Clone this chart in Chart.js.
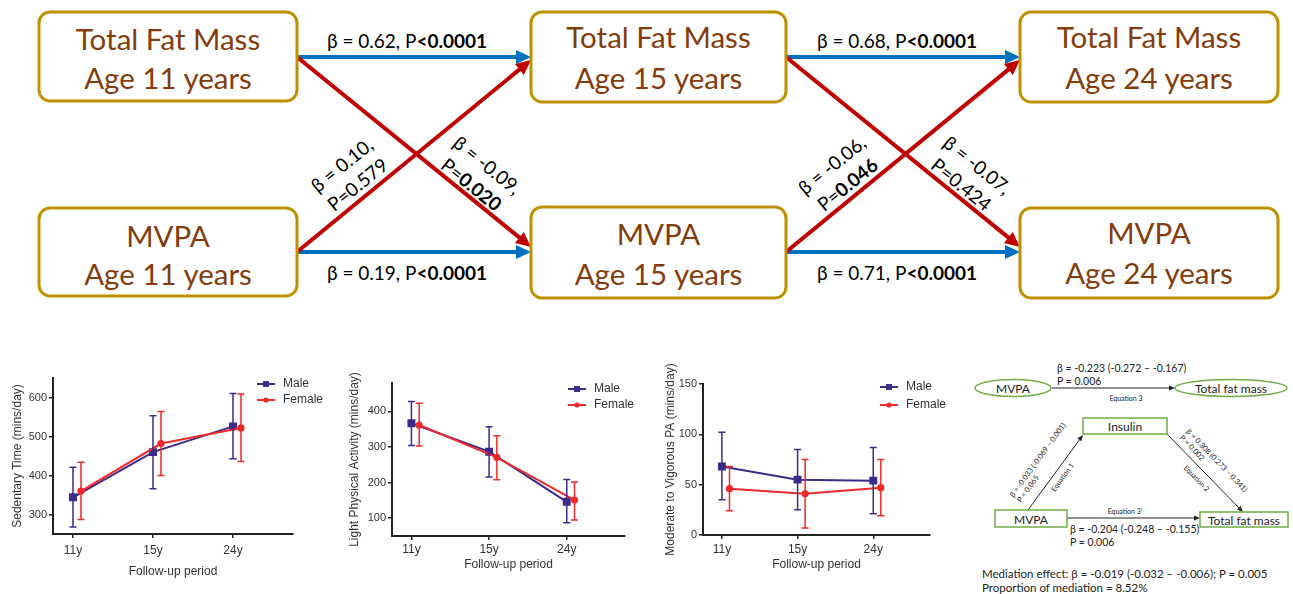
<!DOCTYPE html>
<html>
<head>
<meta charset="utf-8">
<script src="https://cdn.jsdelivr.net/npm/chart.js@4.4.1/dist/chart.umd.min.js"></script>
<style>
  html, body { margin: 0; padding: 0; background: #fff; }
  #page { position: relative; width: 1293px; height: 594px; overflow: hidden; }
  #diagram { position: absolute; left: 0; top: 0; }
  .panel { position: absolute; }
</style>
</head>
<body>
<div id="page">
  <svg id="diagram" width="1293" height="594" xmlns="http://www.w3.org/2000/svg"></svg>
  <div class="panel" style="left:0;top:360px;width:340px;height:234px"><canvas id="c1"></canvas></div>
  <div class="panel" style="left:340px;top:360px;width:320px;height:234px"><canvas id="c2"></canvas></div>
  <div class="panel" style="left:655px;top:360px;width:310px;height:234px"><canvas id="c3"></canvas></div>
</div>
<script>
// follow-up waves
const categories = ['11y', '15y', '24y'];

// Sedentary time (mins/day), mean and error bar ends
const sedMale = [344, 460, 526];
const sedMaleLow = [268, 366, 443];
const sedMaleHigh = [421, 553, 610];
const sedFemale = [360, 482, 522];
const sedFemaleLow = [287, 400, 436];
const sedFemaleHigh = [434, 564, 609];
const sedTicks = [300, 400, 500, 600];

// Light physical activity (mins/day)
const lpaMale = [367, 287, 146];
const lpaMaleLow = [304, 216, 87];
const lpaMaleHigh = [428, 357, 209];
const lpaFemale = [362, 271, 151];
const lpaFemaleLow = [303, 208, 95];
const lpaFemaleHigh = [423, 332, 202];
const lpaTicks = [100, 200, 300, 400];

// Moderate to vigorous PA (mins/day)
const mvpaMale = [68, 55, 54];
const mvpaMaleLow = [35, 25, 21];
const mvpaMaleHigh = [102, 85, 87];
const mvpaFemale = [46, 41, 47];
const mvpaFemaleLow = [24, 7, 19];
const mvpaFemaleHigh = [68, 75, 75];
const mvpaTicks = [0, 50, 100, 150];

const dodge = 0.1; // female points sit slightly right of the tick
const maleColor = '#3d2a8a';
const femaleColor = '#ee2a2a';
const textColor = '#333';

// ---------- path diagram (svg) ----------
const svg = document.getElementById('diagram');
const NS = 'http://www.w3.org/2000/svg';

function add(tag, attrs, parent = svg) {
  const e = document.createElementNS(NS, tag);
  for (const k in attrs) e.setAttribute(k, attrs[k]);
  parent.appendChild(e);
  return e;
}

function addText(parent, x, y, segs, attrs) {
  const t = add('text', Object.assign({ x, y }, attrs), parent);
  segs.forEach(([str, bold]) => {
    const s = add('tspan', bold ? { 'font-weight': 'bold' } : {}, t);
    s.textContent = str;
  });
  return t;
}

function arrow(x1, y1, x2, y2, color, width, headL, headW, parent = svg) {
  const len = Math.hypot(x2 - x1, y2 - y1);
  const ux = (x2 - x1) / len, uy = (y2 - y1) / len;
  const bx = x2 - ux * headL, by = y2 - uy * headL;
  add('line', { x1, y1, x2: bx + ux, y2: by + uy, stroke: color, 'stroke-width': width }, parent);
  add('polygon', {
    points: `${x2},${y2} ${bx - uy * headW},${by + ux * headW} ${bx + uy * headW},${by - ux * headW}`,
    fill: color
  }, parent);
}

const boxes = [
  { x: 39, y: 12, w: 258, h: 89, lines: ['Total Fat Mass', 'Age 11 years'], ly: [38, 77] },
  { x: 39, y: 208, w: 258, h: 88, lines: ['MVPA', 'Age 11 years'], ly: [235, 273] },
  { x: 531, y: 12, w: 255, h: 90, lines: ['Total Fat Mass', 'Age 15 years'], ly: [36, 77] },
  { x: 531, y: 207, w: 255, h: 91, lines: ['MVPA', 'Age 15 years'], ly: [233, 273] },
  { x: 1020, y: 12, w: 258, h: 90, lines: ['Total Fat Mass', 'Age 24 years'], ly: [36, 77] },
  { x: 1020, y: 208, w: 258, h: 90, lines: ['MVPA', 'Age 24 years'], ly: [232, 272] }
];

const blue = '#0070c0', red = '#c00000';
arrow(297, 57, 531, 57, blue, 4, 15, 7);
arrow(297, 252, 531, 252, blue, 4, 15, 7);
arrow(786, 57, 1020, 57, blue, 4, 15, 7);
arrow(786, 252, 1020, 252, blue, 4, 15, 7);
arrow(297, 57, 531, 247, red, 4, 15, 7);
arrow(297, 252, 531, 60, red, 4, 15, 7);
arrow(786, 57, 1020, 247, red, 4, 15, 7);
arrow(786, 252, 1020, 60, red, 4, 15, 7);

boxes.forEach(b => {
  add('rect', { x: b.x, y: b.y, width: b.w, height: b.h, rx: 11, fill: '#fff', stroke: '#bf9000', 'stroke-width': 3 });
  b.lines.forEach((s, i) => {
    addText(svg, b.x + b.w / 2, b.ly[i], [[s]], {
      'text-anchor': 'middle', 'dominant-baseline': 'central',
      'font-family': 'Lato', 'font-size': 29.5, fill: '#843c0c'
    });
  });
});

const labelFont = { 'text-anchor': 'middle', 'dominant-baseline': 'central', 'font-family': 'Lato', 'font-size': 19, fill: '#000' };
addText(svg, 407, 40, [['β = 0.62, P'], ['<0.0001', true]], labelFont);
addText(svg, 407, 272, [['β = 0.19, P'], ['<0.0001', true]], labelFont);
addText(svg, 897, 40, [['β = 0.68, P'], ['<0.0001', true]], labelFont);
addText(svg, 897, 272, [['β = 0.71, P'], ['<0.0001', true]], labelFont);

const diagLabels = [
  { cx: 349, cy: 174, rot: -39, lines: [[['β = 0.10,']], [['P=0.579']]] },
  { cx: 480, cy: 174, rot: 39, lines: [[['β = -0.09,']], [['P='], ['0.020', true]]] },
  { cx: 839, cy: 174, rot: -39, lines: [[['β = -0.06,']], [['P='], ['0.046', true]]] },
  { cx: 970, cy: 174, rot: 39, lines: [[['β = -0.07,']], [['P=0.424']]] }
];
diagLabels.forEach(d => {
  const g = add('g', { transform: `translate(${d.cx},${d.cy}) rotate(${d.rot})` });
  d.lines.forEach((segs, i) => addText(g, 0, (i - 0.5) * 25, segs, labelFont));
});

// ---------- mediation panel (svg) ----------
const green = '#70ad47';
const small = { 'font-family': 'Lato', fill: '#222' };
const betaFont = Object.assign({ 'font-size': 10.5, 'dominant-baseline': 'central' }, small);
addText(svg, 1057, 368, [['β = -0.223 (-0.272 – -0.167)']], betaFont);
addText(svg, 1057, 381, [['P = 0.006']], betaFont);
arrow(1052, 388, 1175, 388, '#222', 1, 6, 2.5);
add('ellipse', { cx: 1013, cy: 388, rx: 38, ry: 8.5, fill: '#fff', stroke: green, 'stroke-width': 1.5 });
add('ellipse', { cx: 1231, cy: 388, rx: 56, ry: 8.5, fill: '#fff', stroke: green, 'stroke-width': 1.5 });
const nodeFont = Object.assign({ 'font-size': 12, 'text-anchor': 'middle', 'dominant-baseline': 'central' }, small);
addText(svg, 1013, 388, [['MVPA']], nodeFont);
addText(svg, 1231, 388, [['Total fat mass']], nodeFont);
const eqFont = Object.assign({ 'font-size': 7, 'text-anchor': 'middle', 'dominant-baseline': 'central' }, small);
addText(svg, 1126, 398, [['Equation 3']], eqFont);

arrow(1028, 510, 1083, 435, '#222', 1, 6, 2.5);
arrow(1167, 434, 1243, 512, '#222', 1, 6, 2.5);
arrow(1067, 518, 1200, 518, '#222', 1, 6, 2.5);
add('rect', { x: 1083, y: 418, width: 84, height: 16, fill: '#fff', stroke: green, 'stroke-width': 1.5 });
add('rect', { x: 995, y: 510, width: 72, height: 17, fill: '#fff', stroke: green, 'stroke-width': 1.5 });
add('rect', { x: 1200, y: 512, width: 88, height: 15, fill: '#fff', stroke: green, 'stroke-width': 1.5 });
addText(svg, 1125, 426, [['Insulin']], nodeFont);
addText(svg, 1031, 519, [['MVPA']], nodeFont);
addText(svg, 1244, 520, [['Total fat mass']], nodeFont);
addText(svg, 1125, 511, [['Equation 3’']], eqFont);

const rotFont = Object.assign({ 'font-size': 7.5, 'dominant-baseline': 'central' }, small);
let g = add('g', { transform: 'translate(1011,496) rotate(-54)' });
addText(g, 0, 0, [['β = -0.033 (-0.069 – 0.001)']], rotFont);
addText(g, 0, 9, [['P = 0.065']], rotFont);
g = add('g', { transform: 'translate(1062,477) rotate(-54)' });
addText(g, 0, 0, [['Equation 1']], eqFont);
g = add('g', { transform: 'translate(1188,430) rotate(46)' });
addText(g, 0, 0, [['β = 0.308 (0.273 – 0.341)']], rotFont);
addText(g, 0, 9, [['P = 0.002']], rotFont);
g = add('g', { transform: 'translate(1197,478) rotate(46)' });
addText(g, 0, 0, [['Equation 2']], eqFont);

const noteFont = Object.assign({ 'font-size': 11.5, 'dominant-baseline': 'central' }, small);
addText(svg, 1070, 529, [['β = -0.204 (-0.248 – -0.155)']], betaFont);
addText(svg, 1070, 542, [['P = 0.006']], betaFont);
addText(svg, 982, 573, [['Mediation effect: β = -0.019 (-0.032 – -0.006); P = 0.005']], noteFont);
addText(svg, 982, 587, [['Proportion of mediation = 8.52%']], noteFont);

// ---------- Chart.js panels ----------
const errorBars = {
  id: 'errorBars',
  afterDatasetsDraw(chart) {
    const { ctx, scales: { y } } = chart;
    chart.data.datasets.forEach((ds, i) => {
      const meta = chart.getDatasetMeta(i);
      ctx.save();
      ctx.strokeStyle = ds.borderColor;
      ctx.lineWidth = 1.5;
      meta.data.forEach((pt, j) => {
        const yl = y.getPixelForValue(ds.errLow[j]);
        const yh = y.getPixelForValue(ds.errHigh[j]);
        ctx.beginPath();
        ctx.moveTo(pt.x, yl); ctx.lineTo(pt.x, yh);
        ctx.moveTo(pt.x - 3.5, yl); ctx.lineTo(pt.x + 3.5, yl);
        ctx.moveTo(pt.x - 3.5, yh); ctx.lineTo(pt.x + 3.5, yh);
        ctx.stroke();
      });
      ctx.restore();
    });
  }
};

const sideLegend = {
  id: 'sideLegend',
  afterDraw(chart, args, opts) {
    const { ctx } = chart;
    chart.data.datasets.forEach((ds, i) => {
      const y = opts.y + i * opts.gap;
      ctx.save();
      ctx.strokeStyle = ds.borderColor;
      ctx.fillStyle = ds.borderColor;
      ctx.lineWidth = 2;
      ctx.beginPath(); ctx.moveTo(opts.x, y); ctx.lineTo(opts.x + 18, y); ctx.stroke();
      Chart.helpers.drawPoint(ctx, { pointStyle: ds.pointStyle, radius: ds.pointRadius, borderWidth: 0 }, opts.x + 9, y);
      ctx.fillStyle = textColor;
      ctx.font = '12px Arial';
      ctx.textBaseline = 'middle';
      ctx.fillText(ds.label, opts.x + 26, y);
      ctx.restore();
    });
  }
};

const axisFont = { family: 'Arial', size: 12 };

function lineChart(canvasId, s) {
  const pts = (vals, off) => vals.map((v, i) => ({ x: i + 1 + off, y: v }));
  return new Chart(document.getElementById(canvasId), {
    type: 'line',
    data: {
      datasets: [
        { label: 'Male', data: pts(s.male, 0), errLow: s.maleLow, errHigh: s.maleHigh,
          borderColor: maleColor, backgroundColor: maleColor, pointStyle: 'rect', pointRadius: 4.2,
          borderWidth: 2, order: 1 },
        { label: 'Female', data: pts(s.female, dodge), errLow: s.femaleLow, errHigh: s.femaleHigh,
          borderColor: femaleColor, backgroundColor: femaleColor, pointStyle: 'circle', pointRadius: 2.6,
          borderWidth: 2, order: 0 }
      ]
    },
    options: {
      responsive: true,
      maintainAspectRatio: false,
      animation: false,
      layout: { padding: { left: 0, top: s.area.t, right: s.w - s.area.r, bottom: 0 } },
      plugins: { legend: { display: false }, tooltip: { enabled: false }, sideLegend: s.legend },
      scales: {
        x: {
          type: 'linear', min: 0.75, max: 3.75,
          afterBuildTicks: sc => { sc.ticks = categories.map((c, i) => ({ value: i + 1 })); },
          afterFit: sc => { sc.height = s.h - s.area.b; },
          ticks: { callback: (v, i) => categories[i], font: axisFont, color: textColor, padding: s.xTickPad, maxRotation: 0, autoSkip: false },
          grid: { drawOnChartArea: false, tickLength: 4, color: '#222', lineWidth: 1.5 },
          border: { color: '#222', width: 2 },
          title: { display: true, text: 'Follow-up period', font: axisFont, color: textColor, padding: { top: 0, bottom: s.xTitlePad } }
        },
        y: {
          min: s.yMin, max: s.yMax,
          afterBuildTicks: sc => { sc.ticks = s.ticks.map(v => ({ value: v })); },
          afterFit: sc => { sc.width = s.area.l; },
          ticks: { font: { family: 'Arial', size: 11 }, color: textColor, padding: 2 },
          grid: { drawOnChartArea: false, tickLength: 4, color: '#222', lineWidth: 1.5 },
          border: { color: '#222', width: 2 },
          title: { display: true, text: s.yTitle, font: axisFont, color: textColor, padding: { top: s.yTitlePad, bottom: 0 } }
        }
      }
    },
    plugins: [errorBars, sideLegend]
  });
}

lineChart('c1', {
  w: 340, h: 234, area: { l: 53, r: 293, t: 18, b: 174 },
  yMin: 250, yMax: 650, ticks: sedTicks, yTitle: 'Sedentary Time (mins/day)',
  male: sedMale, maleLow: sedMaleLow, maleHigh: sedMaleHigh,
  female: sedFemale, femaleLow: sedFemaleLow, femaleHigh: sedFemaleHigh,
  xTickPad: 5, xTitlePad: 15, yTitlePad: 10,
  legend: { x: 257, y: 24, gap: 16 }
});

lineChart('c2', {
  w: 320, h: 234, area: { l: 52, r: 285, t: 23, b: 176 },
  yMin: 50, yMax: 480, ticks: lpaTicks, yTitle: 'Light Physical Activity (mins/day)',
  male: lpaMale, maleLow: lpaMaleLow, maleHigh: lpaMaleHigh,
  female: lpaFemale, femaleLow: lpaFemaleLow, femaleHigh: lpaFemaleHigh,
  xTickPad: 2, xTitlePad: 22, yTitlePad: 7,
  legend: { x: 228, y: 29, gap: 16 }
});

lineChart('c3', {
  w: 310, h: 234, area: { l: 48, r: 275, t: 24, b: 175 },
  yMin: 0, yMax: 150, ticks: mvpaTicks, yTitle: 'Moderate to Vigorous PA (mins/day)',
  male: mvpaMale, maleLow: mvpaMaleLow, maleHigh: mvpaMaleHigh,
  female: mvpaFemale, femaleLow: mvpaFemaleLow, femaleHigh: mvpaFemaleHigh,
  xTickPad: 3, xTitlePad: 22, yTitlePad: 8,
  legend: { x: 225, y: 27, gap: 18 }
});
</script>
</body>
</html>
